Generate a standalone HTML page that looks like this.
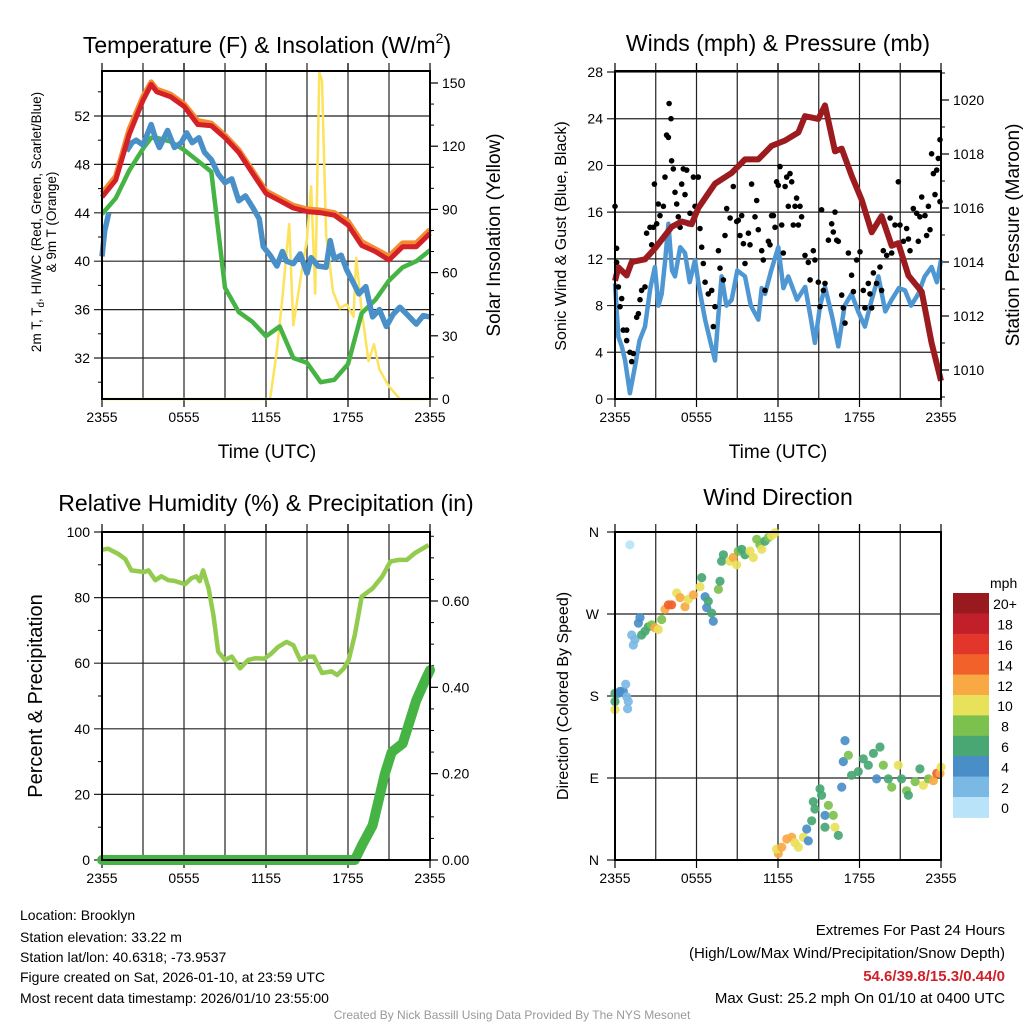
<!DOCTYPE html>
<html><head><meta charset="utf-8">
<style>
html,body{margin:0;padding:0;background:#fff;}
body{width:1024px;height:1024px;overflow:hidden;font-family:"Liberation Sans",Arial,sans-serif;}
svg text{font-family:"Liberation Sans",Arial,sans-serif;fill:#000;}
</style></head>
<body>
<svg id="chart" width="1024" height="1024" viewBox="0 0 1024 1024" xmlns="http://www.w3.org/2000/svg">
  <g id="static">
    <text x="267" y="53" font-size="23" text-anchor="middle">Temperature (F) &amp; Insolation (W/m<tspan font-size="14" dy="-10">2</tspan><tspan dy="10">)</tspan></text>
    <text transform="translate(41,222) rotate(-90)" font-size="13.5" text-anchor="middle">2m T, T<tspan font-size="10" dy="3">d</tspan><tspan dy="-3">, HI/WC (Red, Green, Scarlet/Blue)</tspan></text>
    <text transform="translate(56,222) rotate(-90)" font-size="13.5" text-anchor="middle">&amp; 9m T (Orange)</text>
    <text transform="translate(500,235) rotate(-90)" font-size="19" text-anchor="middle">Solar Insolation (Yellow)</text>
    <text x="267" y="458" font-size="19" text-anchor="middle">Time (UTC)</text>

    <text x="778" y="51" font-size="23" text-anchor="middle">Winds (mph) &amp; Pressure (mb)</text>
    <text transform="translate(566,236) rotate(-90)" font-size="16" text-anchor="middle">Sonic Wind &amp; Gust (Blue, Black)</text>
    <text transform="translate(1019,235) rotate(-90)" font-size="19" text-anchor="middle">Station Pressure (Maroon)</text>
    <text x="778" y="458" font-size="19" text-anchor="middle">Time (UTC)</text>

    <text x="266" y="511" font-size="23" text-anchor="middle">Relative Humidity (%) &amp; Precipitation (in)</text>
    <text transform="translate(42,696) rotate(-90)" font-size="20" text-anchor="middle">Percent &amp; Precipitation</text>

    <text x="778" y="505" font-size="23" text-anchor="middle">Wind Direction</text>
    <text transform="translate(568,696) rotate(-90)" font-size="16" text-anchor="middle">Direction (Colored By Speed)</text>
    <text x="990" y="588" font-size="14">mph</text>

    <g font-size="14">
      <text x="20" y="920">Location: Brooklyn</text>
      <text x="20" y="942">Station elevation: 33.22 m</text>
      <text x="20" y="962">Station lat/lon: 40.6318; -73.9537</text>
      <text x="20" y="982">Figure created on Sat, 2026-01-10, at 23:59 UTC</text>
      <text x="20" y="1003">Most recent data timestamp: 2026/01/10 23:55:00</text>
    </g>
    <g font-size="15" text-anchor="end">
      <text x="1005" y="935">Extremes For Past 24 Hours</text>
      <text x="1005" y="958">(High/Low/Max Wind/Precipitation/Snow Depth)</text>
      <text x="1005" y="981" font-weight="bold" style="fill:#d0202a">54.6/39.8/15.3/0.44/0</text>
      <text x="1005" y="1003">Max Gust: 25.2 mph On 01/10 at 0400 UTC</text>
    </g>
    <text x="512" y="1019" font-size="12" text-anchor="middle" style="fill:#999">Created By Nick Bassill Using Data Provided By The NYS Mesonet</text>
  </g>
  <g id="dyn"></g>
</svg>
<script>
// ---------- DATA ----------
const xTickLabels = ["2355","0555","1155","1755","2355"];
// Temperature panel (hours since 2355)
const tHours = [0,1,2,3,3.6,4,5,6,7,8,9,10,11,12,13,14,15,16,17,18,19,20,21,22,23,24];
const temp2m = [45.3,46.7,50.5,53.3,54.6,54.0,53.6,52.8,51.3,51.2,50.2,49.0,47.3,45.6,45.0,44.4,44.1,44.0,43.8,43.0,41.3,40.8,40.1,41.2,41.2,42.3];
const temp9m = [45.6,47.0,50.9,53.6,54.8,54.2,53.8,53.0,51.6,51.4,50.4,49.2,47.5,45.8,45.2,44.6,44.3,44.2,44.0,43.3,41.6,41.0,40.4,41.5,41.5,42.6];
const dewpoint = [43.9,45.2,47.5,49.3,50.2,50.2,49.9,49.2,48.3,47.4,37.8,35.8,35.0,33.8,34.6,32.0,31.6,30.0,30.2,31.5,35.7,36.8,38.4,39.5,40.0,40.9];
const wcHours = [0,0.2,0.5,1.0,1.8,2.2,2.5,3.0,3.6,3.9,4.2,4.8,5.3,5.8,6.2,6.6,7.1,7.5,8.0,8.5,9.0,9.5,10.0,10.5,11.0,11.5,11.8,12.3,12.8,13.2,13.5,14.0,14.5,15.0,15.3,15.8,16.4,16.7,17.0,17.5,17.9,18.4,18.8,19.3,19.8,20.3,20.8,21.3,21.8,22.4,23.0,23.5,24];
const windChill = [40.4,42.5,44.0,null,49.1,49.8,50.0,49.6,51.3,50.2,49.4,50.8,49.4,49.8,50.6,49.8,50.2,49.0,48.4,47.2,46.5,46.8,45.0,45.4,44.5,43.5,41.2,40.5,39.6,40.8,40.0,39.8,40.6,39.0,40.3,39.6,39.5,41.7,40.2,40.5,39.3,38.2,37.3,37.9,35.4,36.0,34.6,35.6,36.2,35.5,34.8,35.5,35.4];
const solarHours = [0,12.3,12.8,13.2,13.7,14.0,14.5,15.0,15.3,15.6,15.9,16.1,16.4,16.9,17.4,17.9,18.4,18.6,19.0,19.5,19.9,20.3,21.0,21.8,24];
const solar = [0,0,23,48,83,35,56,76,101,50,155,151,78,51,43,45,39,67,42,18,26,14,6,0,0];
// Winds panel
const windHours = [0,0.25,0.5,0.74,1.1,1.47,1.8,2.21,2.6,2.94,3.2,3.44,3.7,3.93,4.2,4.42,4.8,5.15,5.5,5.89,6.2,6.63,7.0,7.36,7.6,7.85,8.2,8.59,9.0,9.57,10.0,10.55,10.8,11.04,11.5,12.02,12.4,12.76,13.4,14.0,14.4,14.72,15.1,15.46,16.0,16.44,16.9,17.42,17.9,18.4,18.9,19.39,19.9,20.37,20.9,21.35,21.8,22.33,22.8,23.31,23.7,24];
const windSpeed = [9.9,5.3,4.5,3.3,0.5,2.8,5.0,6.2,9.5,11.3,8.0,9.0,12.0,15.0,11.0,10.5,13.0,12.5,10.0,11.9,9.5,6.8,5.0,3.3,7.0,10.5,8.0,8.5,11.0,10.5,8.0,6.8,9.5,9.0,11.0,13.0,9.5,10.5,8.5,9.6,7.0,4.8,8.0,9.6,7.0,4.5,8.0,9.0,7.5,6.2,8.5,10.5,7.5,8.5,9.5,9.3,8.0,9.0,10.5,11.3,10.0,11.9];
const gustHours = [0,0.12,0.12,0.25,0.37,0.49,0.61,0.86,0.86,1.1,1.23,1.35,1.6,1.72,1.84,1.96,2.21,2.33,2.58,2.7,2.82,2.9,3.07,3.19,3.31,3.56,3.68,3.8,3.93,3.98,4.12,4.17,4.29,4.42,4.54,4.66,4.79,4.91,5.03,5.15,5.28,5.4,5.52,5.77,5.89,6.13,6.26,6.38,6.5,6.63,6.87,7.12,7.24,7.36,7.61,7.73,7.98,8.1,8.22,8.47,8.71,8.96,9.08,9.2,9.33,9.45,9.57,9.82,9.94,10.06,10.31,10.43,10.55,10.8,10.92,11.04,11.29,11.41,11.53,11.66,11.78,11.9,12.02,12.15,12.27,12.39,12.52,12.64,12.76,12.88,13.01,13.13,13.25,13.37,13.5,13.62,13.74,13.99,14.23,14.36,14.6,14.72,14.97,15.09,15.21,15.34,15.46,15.71,15.95,16.07,16.2,16.32,16.44,16.69,16.81,16.93,17.18,17.42,17.55,17.79,18.04,18.28,18.4,18.65,18.77,18.9,19.02,19.26,19.51,19.63,19.75,20,20.25,20.37,20.61,20.86,20.98,21.23,21.47,21.6,21.72,21.96,22.21,22.33,22.45,22.58,22.82,22.94,23.07,23.19,23.31,23.44,23.56,23.68,23.8,23.93,23.93];
const gust = [16.5,12.9,11.7,9.6,7.9,8.6,5.9,5.9,5.0,4.0,3.2,3.9,7.0,7.3,8.5,9.3,9.6,14.2,14.7,13.2,14.7,18.4,15.0,16.7,15.7,16.5,19.0,22.6,22.4,25.3,24.0,20.4,19.7,17.7,16.7,15.6,14.7,18.4,19.7,17.5,19.6,15.0,15.9,19.0,16.5,19.0,14.6,13.0,11.6,10.0,9.0,9.3,6.2,7.9,12.7,11.2,10.2,14.0,16.3,15.5,18.2,15.2,15.3,14.0,15.7,13.3,11.6,14.2,13.2,18.4,15.6,17.0,14.5,12.7,11.9,9.3,13.5,13.2,15.7,15.7,14.7,18.6,18.3,19.9,14.9,12.5,18.2,19.0,16.5,19.3,18.6,14.9,16.5,17.2,14.9,16.5,15.6,12.3,11.7,10.2,12.7,11.9,10.0,7.9,16.2,9.3,9.9,13.6,15.0,14.3,16.0,13.6,13.5,8.9,7.8,6.5,12.5,10.6,9.2,11.9,12.6,9.3,7.8,9.9,9.0,7.8,10.8,9.9,11.3,9.3,12.7,12.3,15.5,12.5,14.9,18.6,14.9,13.5,14.6,13.7,12.7,16.3,15.9,13.5,15.6,17.3,15.7,14.0,16.5,14.5,21.0,19.3,17.5,19.6,20.6,22.2,16.9];
const presHours = [0,0.25,0.86,1.23,2.21,2.94,4.17,4.91,5.64,6.13,7.36,8.59,9.57,10.55,11.53,12.52,13.5,13.99,14.97,15.46,16.2,16.69,17.42,18.16,18.9,19.63,20.37,20.86,21.6,22.58,23.31,24];
const pressure = [1013.3,1013.8,1013.5,1014.0,1014.1,1014.5,1015.3,1015.5,1015.4,1016.0,1016.9,1017.3,1017.8,1017.8,1018.3,1018.5,1018.8,1019.4,1019.3,1019.8,1018.1,1018.2,1017.2,1016.3,1015.1,1015.7,1014.6,1014.7,1013.5,1012.9,1011.0,1009.6];
// Humidity panel
const rhHours = [0,0.45,1.2,1.7,2.15,3.1,3.4,3.9,4.35,4.85,5.3,6.07,6.55,6.9,7.15,7.4,7.8,8.15,8.5,9.0,9.5,10.1,10.7,11.2,11.9,12.4,12.9,13.5,14.0,14.5,15.0,15.5,16.1,16.8,17.2,17.7,18.05,18.5,19.0,19.8,20.5,21.1,21.7,22.3,22.9,23.9];
const rh = [94.6,94.9,93.3,91.8,88.3,87.8,88.3,85.3,86.5,85.3,85.1,84.1,85.9,86.5,85.0,88.3,82.8,74.7,63.5,61.0,62.0,58.4,61.0,61.5,61.4,63.0,65.0,66.5,65.5,61.0,62.0,62.0,57.0,57.5,56.4,58.4,61.0,68.6,80.3,82.8,86.4,91.0,91.5,91.5,93.6,96.0];
const precipHours = [0,18.5,19.0,19.8,20.25,20.7,21.2,22.0,22.6,23.0,23.7,24];
const precip = [0,0,0.033,0.08,0.14,0.20,0.25,0.27,0.33,0.37,0.42,0.44];
// Direction panel
const dirHours = [1.1,0,0.25,0.37,0.61,0.79,0.86,0.98,0.93,0,0,1.35,1.23,1.47,1.72,1.84,1.96,2.21,2.45,2.7,2.94,3.19,3.44,3.68,3.93,4.17,4.54,4.79,5.15,5.4,5.77,6.26,6.38,6.63,6.75,6.87,7.12,7.24,7.61,7.73,7.85,7.98,8.47,8.71,8.96,9.08,9.33,9.57,9.94,10.18,10.43,10.67,10.8,11.04,11.29,11.53,11.78,12.02,11.9,12.27,12.64,13.01,13.25,13.5,13.87,14.11,14.23,14.48,14.72,14.6,15.09,15.21,15.46,15.46,15.71,16.07,16.2,16.44,16.69,16.81,16.93,17.18,17.42,17.91,18.28,18.65,19.02,19.26,19.51,19.75,20.12,20.37,20.86,21.1,21.47,21.6,22.09,22.45,22.7,23.07,23.44,23.68,23.93,24];
const dirDeg = [346,183,183,185,185,193,179,174,166,174,165,236,247,242,260,266,247,251,256,258,255,253,264,275,280,280,293,288,278,286,291,300,310,289,277,284,271,262,297,306,328,335,328,332,324,339,341,335,339,332,352,346,341,350,354,356,359,7,12,14,23,25,19,14,25,34,21,43,56,64,78,71,49,36,60,49,36,27,80,108,131,115,93,97,111,104,117,89,124,104,89,80,104,89,76,71,86,100,82,89,87,95,95,102];
const dirSpeed = [1,6,5,4,4,3,2,2,2,6,10,2,2,2,4,4,6,6,7,8,12,10,8,12,14,14,10,12,12,11,12,10,6,4,4,6,6,4,8,6,6,7,10,12,10,8,7,7,10,10,8,8,10,6,8,10,10,12,10,12,12,13,10,10,10,4,4,6,7,6,7,7,4,6,8,8,10,7,4,4,4,8,6,6,6,6,6,4,6,8,6,8,10,7,8,7,8,7,10,8,12,14,12,10];
const speedBinLabels = ["0","2","4","6","8","10","12","14","16","18","20+"];
const speedColors = ["#b8e3f8","#7bb9e5","#4a8ec8","#48a773","#7cc14e","#e8e15a","#f8a944","#f26129","#e2362b","#c11f2a","#981a1f"];

// ---------- HELPERS ----------
const NS = "http://www.w3.org/2000/svg";
const dyn = document.getElementById("dyn");
function mk(tag, attrs, parent){
  const e = document.createElementNS(NS, tag);
  for (const k in attrs) e.setAttribute(k, attrs[k]);
  (parent||dyn).appendChild(e);
  return e;
}
function lin(d0,d1,r0,r1){ return v => r0 + (v-d0)*(r1-r0)/(d1-d0); }
function linePath(xs, ys, sx, sy){
  let d = "", pen = false;
  for (let i=0;i<xs.length;i++){
    if (ys[i]===null){ pen=false; continue; }
    d += (pen?"L":"M") + sx(xs[i]).toFixed(1) + "," + sy(ys[i]).toFixed(1);
    pen = true;
  }
  return d;
}
function frame(p, name){
  const g = mk("g", {});
  
  
  for (let h=3; h<24; h+=3){
    const x = p.sx(h);
    mk("line",{x1:x,x2:x,y1:p.y0-8,y2:p.y1,stroke:"#222","stroke-width":1.2},g);
  }
  for (let h=0; h<=24; h+=6){
    const x = p.sx(h);
    mk("line",{x1:x,x2:x,y1:p.y1,y2:p.y1+8,stroke:"#000","stroke-width":1.2},g);
    mk("line",{x1:x,x2:x,y1:p.y0-8,y2:p.y0,stroke:"#000","stroke-width":1.2},g);
  }
  for (let i=0;i<xTickLabels.length;i++){
    const t = mk("text",{x:p.sx(i*6),y:p.y1+23,"font-size":14,"text-anchor":"middle"},g);
    
    
    t.textContent = xTickLabels[i];
  }
  return g;
}
function hgrid(p, g, vals, labels, lx){
  vals.forEach((v,i)=>{
    const y = p.syL(v);
    mk("line",{x1:p.x0-8,x2:p.x1,y1:y,y2:y,stroke:"#222","stroke-width":1.2},g);
    if (labels){
      const t = mk("text",{x:lx||p.x0-12,y:y+5,"font-size":14,"text-anchor":"end"},g);
      
      
      t.textContent = labels[i];
    }
  });
}
function rightTicks(p, g, vals, labels, minor){
  (minor||[]).forEach(v=>{ const y=p.syR(v); mk("line",{x1:p.x1,x2:p.x1+4,y1:y,y2:y,stroke:"#000","stroke-width":1},g); });
  vals.forEach((v,i)=>{
    const y = p.syR(v);
    mk("line",{x1:p.x1,x2:p.x1+8,y1:y,y2:y,stroke:"#000","stroke-width":1.2},g);
    const t = mk("text",{x:p.x1+12,y:y+5,"font-size":14},g);
    
    
    t.textContent = labels[i];
  });
}
function border(p){
  const r = mk("rect",{x:p.x0,y:p.y0,width:p.x1-p.x0,height:p.y1-p.y0,fill:"none",stroke:"#000","stroke-width":2});
  
  
}

// ---------- PANEL 1: temperature ----------
const p1 = {x0:102,x1:430,y0:71,y1:399};
p1.sx = lin(0,24,p1.x0,p1.x1);
p1.syL = lin(52,32,116,358);
p1.syR = lin(0,150,399,83);
{
  const g = frame(p1,"temperature");
  hgrid(p1,g,[32,36,40,44,48,52],["32","36","40","44","48","52"]);
  [30,34,38,42,46,50,54].forEach(v=>{ const y=p1.syL(v); mk("line",{x1:p1.x0-4,x2:p1.x0,y1:y,y2:y,stroke:"#000"},g); });
  rightTicks(p1,g,[0,30,60,90,120,150],["0","30","60","90","120","150"],[10,20,40,50,70,80,100,110,130,140]);
  let e;
  e = mk("path",{d:linePath(solarHours,solar,p1.sx,p1.syR),fill:"none",stroke:"#fde25b","stroke-width":2.5,"stroke-linejoin":"round"});
   
  e = mk("path",{d:linePath(tHours,dewpoint,p1.sx,p1.syL),fill:"none",stroke:"#45b445","stroke-width":4.5,"stroke-linejoin":"round"});
   
  e = mk("path",{d:linePath(wcHours,windChill,p1.sx,p1.syL),fill:"none",stroke:"#4a90c8","stroke-width":5.5,"stroke-linejoin":"round"});
   
  e = mk("path",{d:linePath(tHours,temp9m,p1.sx,p1.syL),fill:"none",stroke:"#f58a32","stroke-width":5.5,"stroke-linejoin":"round"});
   
  e = mk("path",{d:linePath(tHours,temp2m,p1.sx,p1.syL),fill:"none",stroke:"#d42127","stroke-width":5,"stroke-linejoin":"round"});
   
  border(p1);
}

// ---------- PANEL 2: winds ----------
const p2 = {x0:615,x1:941,y0:71,y1:399};
p2.sx = lin(0,24,p2.x0,p2.x1);
p2.syL = lin(0,28,399,72);
p2.syR = lin(1010,1020,370,100);
{
  const g = frame(p2,"winds");
  hgrid(p2,g,[0,4,8,12,16,20,24,28],["0","4","8","12","16","20","24","28"]);
  rightTicks(p2,g,[1010,1012,1014,1016,1018,1020],["1010","1012","1014","1016","1018","1020"],[1009,1011,1013,1015,1017,1019,1021]);
  let e;
  e = mk("path",{d:linePath(windHours,windSpeed,p2.sx,p2.syL),fill:"none",stroke:"#4f97d3","stroke-width":4.5,"stroke-linejoin":"round"});
   
  const gg = mk("g",{});
   
  for (let i=0;i<gust.length;i++){
    const c = mk("circle",{cx:p2.sx(gustHours[i]).toFixed(1),cy:p2.syL(gust[i]).toFixed(1),r:2.8,fill:"#000"},gg);
    
    
  }
  e = mk("path",{d:linePath(presHours,pressure,p2.sx,p2.syR),fill:"none",stroke:"#9b1b1f","stroke-width":6,"stroke-linejoin":"round"});
   
  border(p2);
}

// ---------- PANEL 3: humidity ----------
const p3 = {x0:102,x1:430,y0:532,y1:860};
p3.sx = lin(0,24,p3.x0,p3.x1);
p3.syL = lin(0,100,860,532);
p3.syR = lin(0,0.6,860,601);
{
  const g = frame(p3,"humidity");
  hgrid(p3,g,[0,20,40,60,80,100],["0","20","40","60","80","100"]);
  [10,30,50,70,90].forEach(v=>{ const y=p3.syL(v); mk("line",{x1:p3.x0-4,x2:p3.x0,y1:y,y2:y,stroke:"#000"},g); });
  rightTicks(p3,g,[0,0.2,0.4,0.6],["0.00","0.20","0.40","0.60"],[0.05,0.1,0.15,0.25,0.3,0.35,0.45,0.5,0.55,0.65,0.7,0.75]);
  let e;
  e = mk("path",{d:linePath(rhHours,rh,p3.sx,p3.syL),fill:"none",stroke:"#93cb4f","stroke-width":4.5,"stroke-linejoin":"round"});
   
  e = mk("path",{d:linePath(precipHours,precip,p3.sx,p3.syR),fill:"none",stroke:"#45b445","stroke-width":10,"stroke-linejoin":"round","stroke-linecap":"round"});
   
  border(p3);
}

// ---------- PANEL 4: direction ----------
const p4 = {x0:615,x1:941,y0:532,y1:860};
p4.sx = lin(0,24,p4.x0,p4.x1);
p4.syL = lin(0,360,860,532);
{
  const g = frame(p4,"direction");
  hgrid(p4,g,[0,90,180,270,360],["N","E","S","W","N"],p4.x0-16);
  const gd = mk("g",{});
   
  for (let i=0;i<dirDeg.length;i++){
    const bin = Math.min(10, Math.floor(dirSpeed[i]/2));
    const c = mk("circle",{cx:p4.sx(dirHours[i]).toFixed(1),cy:p4.syL(dirDeg[i]).toFixed(1),r:4.6,fill:speedColors[bin],"fill-opacity":0.92},gd);
    
    
  }
  border(p4);
  const cb = mk("g",{});
   
  const cbTop = 593, cbH = 20.4;
  for (let i=0;i<speedColors.length;i++){
    const idx = speedColors.length-1-i;
    mk("rect",{x:953,y:cbTop+i*cbH,width:36,height:cbH+0.5,fill:speedColors[idx]},cb);
    const t = mk("text",{x:1005,y:cbTop+i*cbH+cbH/2+6,"font-size":14,"text-anchor":"middle"},cb);
    
    
    t.textContent = speedBinLabels[idx];
  }
}
</script>
</body></html>
